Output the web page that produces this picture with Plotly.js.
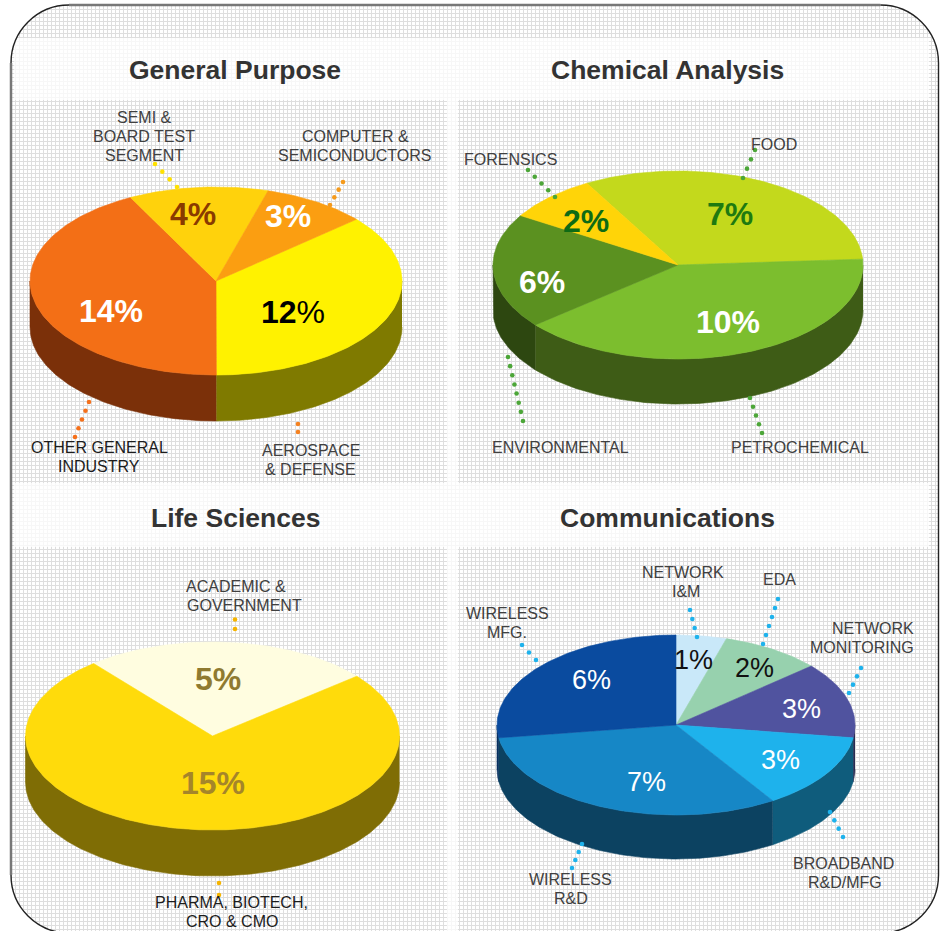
<!DOCTYPE html>
<html><head><meta charset="utf-8">
<script src="https://cdn.plot.ly/plotly-3.0.1.min.js"></script>
<style>
html,body{margin:0;padding:0;background:#fff;overflow:hidden}
#tex{position:absolute;left:11px;top:5px;width:928px;height:928px;border-radius:58px;background-color:#fff;
background-image:linear-gradient(#dedede 1px,transparent 1px),linear-gradient(90deg,#dedede 1px,transparent 1px);background-size:4px 4px}
#chart{position:absolute;left:0;top:0;width:944px;height:931px}
</style></head><body>
<div id="tex"></div><div id="chart"></div>
<script>
// ---- data ----
const titles = ['General Purpose','Chemical Analysis','Life Sciences','Communications'];

const generalLabels = ['12%','14%','4%','3%'];
const generalSizes  = [12,14,4,3];
const generalNames  = ['AEROSPACE\n& DEFENSE','OTHER GENERAL\nINDUSTRY','SEMI &\nBOARD TEST\nSEGMENT','COMPUTER &\nSEMICONDUCTORS'];

const chemicalLabels = ['7%','10%','6%','2%'];
const chemicalSizes  = [8.05,10,4.95,2];
const chemicalNames  = ['FOOD','PETROCHEMICAL','ENVIRONMENTAL','FORENSICS'];

const lifeLabels = ['5%','15%'];
const lifeSizes  = [5,15];
const lifeNames  = ['ACADEMIC &\nGOVERNMENT','PHARMA, BIOTECH,\nCRO & CMO'];

const commLabels = ['1%','2%','3%','3%','7%','6%'];
const commSizes  = [1,2,3,3,7,6];
const commNames  = ['NETWORK\nI&M','EDA','NETWORK\nMONITORING','BROADBAND\nR&D/MFG','WIRELESS\nR&D','WIRELESS\nMFG.'];

// ---- styling and placement ----
const GREY='#404040', DARK='#1c1c1c';
const charts = [
 {title:[235,70], cx:216, cy:281, rx:186, ry:94, d:46, start:49,
  labels:generalLabels, sizes:generalSizes, names:generalNames,
  top:['#FFF200','#F36F16','#FFD20C','#FB9E11'], side:['#7F7A00','#7B3009','#7F6906','#7D4F08'],
  pct:[[293,312,'#000'],[111,311,'#fff'],[193,214,'#8A3A00'],[288,216,'#fff']], pctSize:32, bold:true,
  nameAt:[[[311,310],450,GREY],[[99,99],447,DARK],[[144,144,144],117,GREY],[[355,355],136,GREY]],
  dots:[[298,424,298,432,2,'#F58220'],[89,402,75,437,5,'#F5701A'],[155,164,177,187,4,'#FFE100'],[343,182,330,205,4,'#F59A1B']]},
 {title:[667,70], cx:678, cy:265, rx:185, ry:94, d:45, start:-29.5,
  labels:chemicalLabels, sizes:chemicalSizes, names:chemicalNames,
  top:['#C3D91C','#7CBE2E','#5B9120','#FFD408'], side:['#626D0E','#3E5C16','#2D4710','#7F6A04'],
  pct:[[730,214,'#1E7A10'],[728,322,'#fff'],[542,282,'#fff'],[586,221,'#0E6B15']], pctSize:32, bold:true,
  nameAt:[[[774],144,GREY],[[800],447,GREY],[[560],447,GREY],[[510],159,GREY]],
  dots:[[755,150,743,178,4,'#4CA638'],[750,398,762,433,5,'#4CA638'],[508,357,523,421,8,'#4CA638'],[528,170,555,197,5,'#4CA638']]},
 {title:[235,518], cx:212.5, cy:736, rx:187, ry:94, d:46, start:-39.5,
  labels:lifeLabels, sizes:lifeSizes, names:lifeNames,
  top:['#FFFDE0','#FFDB0B'], side:['#7F7E70','#7F6D05'],
  pct:[[218,679,'#8F7A30'],[213,783,'#A5852A']], pctSize:32, bold:true,
  nameAt:[[[236,244],586,GREY],[[231,232],902,DARK]],
  dots:[[235,619.5,235,629,2,'#F5B400'],[219,883,219,895,2,'#F5B400']]},
 {title:[667,518], cx:676, cy:725, rx:179, ry:90, d:44, start:0,
  labels:commLabels, sizes:commSizes, names:commNames,
  top:['#C9E8F9','#97D1AE','#50539F','#1EB2EC','#1687C6','#0A4B9F'],
  side:['#64747C','#4B6857','#282A50','#0F5C7C','#0C4261','#06305F'],
  pct:[[693,660,'#111'],[754,668,'#111'],[801,709,'#fff'],[780,760,'#fff'],[646,782,'#fff'],[591,680,'#fff']], pctSize:27, bold:false,
  nameAt:[[[683,685.5],572,GREY],[[779],579,GREY],[[873,862],628,GREY],[[843,845],863,GREY],[[570,571],879,GREY],[[507,507],613,GREY]],
  dots:[[690,610,697,637,4,'#1EB2EC'],[778,599,763,644,6,'#1EB2EC'],[861,668,849,693,4,'#1EB2EC'],[830,812,843,837,4,'#1EB2EC'],[582,844,572,868,4,'#1EB2EC'],[522,645,536,660,3,'#1EB2EC']]}
];

const FONT='"Liberation Sans",Arial,sans-serif';
const traces=[], annotations=[];
const rad=Math.PI/180;

function arc(c,a,b,dy){
  const xs=[],ys=[],n=Math.max(2,Math.ceil(Math.abs(b-a)));
  for(let i=0;i<=n;i++){const t=(a+(b-a)*i/n)*rad;
    xs.push(c.cx+c.rx*Math.sin(t)); ys.push(c.cy-c.ry*Math.cos(t)+dy);}
  return [xs,ys];
}
function poly(x,y,color){
  traces.push({type:'scatter',mode:'lines',x:x,y:y,fill:'toself',fillcolor:color,
    line:{color:color,width:0.6},hoverinfo:'skip',showlegend:false});
}

charts.forEach((c,ci)=>{
  const total=c.sizes.reduce((a,b)=>a+b,0);
  let a=c.start; const spans=c.sizes.map(v=>{const s=[a,a+v/total*360];a=s[1];return s;});
  spans.forEach((s,i)=>{
    for(const off of [0,360,-360]){
      const lo=Math.max(s[0]+off,90), hi=Math.min(s[1]+off,270);
      if(hi>lo){
        const [x1,y1]=arc(c,lo,hi,0), [x2,y2]=arc(c,hi,lo,c.d);
        poly(x1.concat(x2),y1.concat(y2),c.side[i]);
      }
    }
  });
  spans.forEach((s,i)=>{
    const [x,y]=arc(c,s[0],s[1],0);
    poly([c.cx].concat(x,[c.cx]),[c.cy].concat(y,[c.cy]),c.top[i]);
  });
  c.dots.forEach(d=>{
    const xs=[],ys=[];
    for(let k=0;k<d[4];k++){const f=d[4]>1?k/(d[4]-1):0;xs.push(d[0]+(d[2]-d[0])*f);ys.push(d[1]+(d[3]-d[1])*f);}
    traces.push({type:'scatter',mode:'markers',x:xs,y:ys,marker:{color:d[5],size:4.6,line:{width:0}},hoverinfo:'skip',showlegend:false});
  });
  annotations.push({x:c.title[0],y:c.title[1],text:'<b>'+titles[ci]+'</b>',showarrow:false,xref:'x',yref:'y',xanchor:'center',yanchor:'middle',
    font:{family:FONT,size:26.5,color:'#333'}});
  c.labels.forEach((l,i)=>{
    const p=c.pct[i]; let txt=c.bold?'<b>'+l+'</b>':l;
    if(ci===0&&i===0) txt='<b>12</b>%';
    annotations.push({x:p[0],y:p[1],text:txt,showarrow:false,xref:'x',yref:'y',xanchor:'center',yanchor:'middle',
      font:{family:FONT,size:c.pctSize,color:p[2]}});
  });
  c.names.forEach((n,i)=>{
    const at=c.nameAt[i];
    n.split('\n').forEach((ln,j)=>{
      annotations.push({x:at[0][j],y:at[1]+j*19,text:ln,showarrow:false,xref:'x',yref:'y',xanchor:'center',yanchor:'middle',
        font:{family:FONT,size:16,color:at[2]}});
    });
  });
});

const band=(x0,y0,x1,y1)=>({type:'rect',layer:'below',xref:'x',yref:'y',x0,y0,x1,y1,fillcolor:'rgba(255,255,255,0.75)',line:{width:0}});
const line=(p,color,width)=>({type:'path',layer:'below',xref:'x',yref:'y',path:p,line:{color,width},fillcolor:'rgba(0,0,0,0)'});
const R=58,K=R*0.448,L=11,T=5,Rt=938.5,B=933;
const shapes=[
  band(14,38,929,100), band(14,483,929,547), band(447,100,458,483), band(447,547,458,931),
  line(`M${L+R},${T} L${Rt-R},${T}`,'#777',2.5),
  line(`M${L},${T+R} L${L},${B-R}`,'#777',2.5),
  line(`M${Rt},${T+R} L${Rt},${B-R}`,'#222',1.4),
  line(`M${L},${T+R} C${L},${T+K} ${L+K},${T} ${L+R},${T}`,'#222',1.4),
  line(`M${Rt-R},${T} C${Rt-K},${T} ${Rt},${T+K} ${Rt},${T+R}`,'#222',1.4),
  line(`M${Rt},${B-R} C${Rt},${B-K} ${Rt-K},${B} ${Rt-R},${B}`,'#222',1.4),
  line(`M${L+R},${B} C${L+K},${B} ${L},${B-K} ${L},${B-R}`,'#222',1.4)
];

Plotly.newPlot('chart',traces,{
  width:944,height:931,margin:{l:0,r:0,t:0,b:0},
  paper_bgcolor:'rgba(0,0,0,0)',plot_bgcolor:'rgba(0,0,0,0)',showlegend:false,
  xaxis:{range:[0,944],visible:false,fixedrange:true},
  yaxis:{range:[931,0],visible:false,fixedrange:true},
  annotations:annotations,shapes:shapes
},{displayModeBar:false,staticPlot:true});
</script></body></html>
